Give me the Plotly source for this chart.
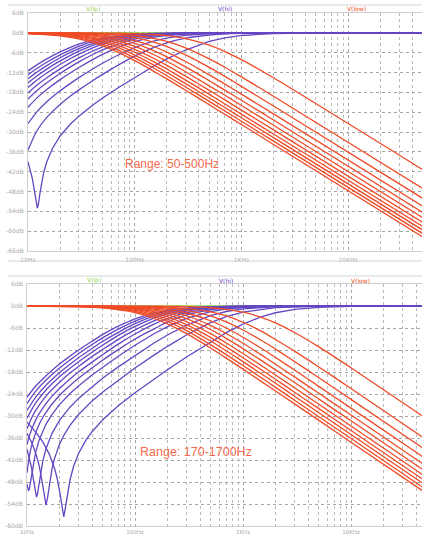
import plotly.graph_objects as go

# ---------------- data ----------------
# Top panel, V(low): shared frequency grid
TOP_LOW_FREQ = [10, 20, 30, 50, 70, 100, 150, 200, 300, 500, 700, 1000, 2000, 50000]
TOP_LOW_DB = [
    [-0.25, -0.93, -1.86, -3.96, -5.92, -8.42, -11.58, -13.94, -17.36, -21.75, -24.65, -27.75, -33.76, -61.72],
    [-0.2, -0.75, -1.54, -3.39, -5.21, -7.58, -10.65, -12.99, -16.38, -20.75, -23.66, -26.75, -32.76, -60.72],
    [-0.16, -0.6, -1.25, -2.83, -4.49, -6.72, -9.69, -11.99, -15.35, -19.7, -22.6, -25.7, -31.7, -59.66],
    [-0.12, -0.47, -0.99, -2.36, -3.82, -5.88, -8.73, -10.96, -14.29, -18.6, -21.51, -24.6, -30.6, -58.56],
    [-0.1, -0.37, -0.77, -1.88, -3.14, -5.0, -7.68, -9.84, -13.11, -17.4, -20.29, -23.37, -29.37, -57.33],
    [-0.07, -0.27, -0.57, -1.44, -2.47, -4.09, -6.55, -8.61, -11.78, -16.03, -18.9, -21.97, -27.96, -55.92],
    [-0.05, -0.19, -0.4, -1.04, -1.85, -3.2, -5.37, -7.27, -10.31, -14.49, -17.32, -20.39, -26.38, -54.33],
    [-0.03, -0.12, -0.27, -0.71, -1.3, -2.33, -4.13, -5.83, -8.67, -12.72, -15.52, -18.55, -24.53, -52.47],
    [-0.02, -0.07, -0.16, -0.42, -0.79, -1.48, -2.84, -4.18, -6.67, -10.47, -13.19, -16.19, -22.13, -50.06],
    [-0.01, -0.04, -0.08, -0.22, -0.41, -0.81, -1.65, -2.6, -4.54, -7.87, -10.42, -13.32, -19.18, -47.09],
    [0.0, -0.01, -0.02, -0.06, -0.12, -0.23, -0.5, -0.86, -1.74, -3.75, -5.67, -8.12, -13.6, -41.4],
]

# Top panel, V(hi): rising curves on a shared grid
TOP_HI_FREQ = [10, 12, 15, 20, 25, 30, 40, 50, 70, 100, 150, 200, 300, 500, 1000, 2000, 50000]
TOP_HI_DB = [
    [-11.5, -9.77, -7.88, -5.75, -4.37, -3.41, -2.2, -1.54, -0.85, -0.43, -0.2, -0.11, -0.05, -0.02, 0, 0, 0],
    [-12.71, -10.89, -8.9, -6.66, -5.15, -4.07, -2.69, -1.88, -1.07, -0.55, -0.26, -0.15, -0.07, -0.02, -0.01, 0, 0],
    [-13.9, -12.0, -9.92, -7.55, -5.93, -4.77, -3.25, -2.32, -1.33, -0.7, -0.33, -0.19, -0.08, -0.03, -0.01, 0, 0],
    [-15.14, -13.15, -10.98, -8.5, -6.8, -5.54, -3.85, -2.8, -1.65, -0.89, -0.41, -0.24, -0.11, -0.04, -0.01, 0, 0],
    [-16.52, -14.43, -12.17, -9.57, -7.78, -6.44, -4.61, -3.42, -2.06, -1.12, -0.53, -0.31, -0.14, -0.05, -0.01, 0, 0],
    [-18.2, -15.97, -13.6, -10.89, -9.01, -7.59, -5.57, -4.22, -2.63, -1.48, -0.72, -0.42, -0.2, -0.07, -0.02, 0, 0],
    [-20.0, -17.6, -15.13, -12.29, -10.3, -8.8, -6.64, -5.18, -3.34, -1.93, -0.97, -0.57, -0.26, -0.1, -0.02, 0, 0],
    [-22.5, -19.83, -17.14, -14.15, -12.07, -10.48, -8.16, -6.53, -4.41, -2.68, -1.4, -0.84, -0.4, -0.15, -0.04, -0.01, 0],
    [-27.5, -24.07, -20.87, -17.54, -15.29, -13.56, -11.02, -9.2, -6.7, -4.45, -2.52, -1.59, -0.78, -0.31, -0.08, -0.02, 0],
    [-35.5, -29.85, -25.59, -21.65, -19.13, -17.26, -14.55, -12.58, -9.77, -7.06, -4.48, -3.03, -1.61, -0.65, -0.17, -0.04, 0],
]
# Top panel, V(hi): the curve with the notch
TOP_NOTCH_FREQ = [10, 10.5, 11, 11.5, 12, 12.24, 12.5, 13, 14, 15, 17, 20, 25, 30, 40, 50, 70,
                  100, 150, 200, 300, 500, 700, 1000, 2000, 5000, 50000]
TOP_NOTCH_DB = [-39.0, -41.3, -44.2, -47.9, -52.1, -53.0, -52.0, -48.1, -42.4, -39.0, -34.9, -31.2, -27.6,
                -25.2, -22.0, -19.7, -16.6, -13.5, -10.1, -7.9, -5.2, -2.6, -1.5, -0.8, -0.2, -0.04, 0]

# Bottom panel, V(low)
BOT_LOW_FREQ = [10, 30, 50, 100, 150, 200, 300, 500, 700, 1000, 1500, 2000, 3000, 5000, 10000, 50000]
BOT_LOW_DB = [
    [-0.02, -0.2, -0.52, -1.81, -3.36, -4.87, -7.53, -11.44, -14.21, -17.22, -20.7, -23.18, -26.69, -31.12, -37.14, -51.12],
    [-0.02, -0.16, -0.42, -1.5, -2.83, -4.22, -6.72, -10.52, -13.25, -16.24, -19.7, -22.19, -25.69, -30.12, -36.14, -50.12],
    [-0.01, -0.12, -0.33, -1.19, -2.36, -3.57, -5.88, -9.53, -12.21, -15.18, -18.62, -21.09, -24.6, -29.03, -35.04, -49.02],
    [-0.01, -0.1, -0.27, -0.95, -1.93, -2.99, -5.09, -8.57, -11.18, -14.11, -17.54, -20.0, -23.5, -27.93, -33.94, -47.92],
    [-0.01, -0.07, -0.2, -0.75, -1.54, -2.43, -4.29, -7.55, -10.08, -12.96, -16.36, -18.8, -22.3, -26.72, -32.73, -46.71],
    [0.0, -0.05, -0.15, -0.55, -1.15, -1.88, -3.46, -6.41, -8.82, -11.62, -14.97, -17.41, -20.88, -25.3, -31.31, -45.29],
    [0.0, -0.04, -0.1, -0.39, -0.84, -1.39, -2.66, -5.26, -7.49, -10.17, -13.46, -15.88, -19.33, -23.74, -29.74, -43.72],
    [0.0, -0.02, -0.07, -0.26, -0.55, -0.95, -1.91, -4.02, -6.0, -8.51, -11.67, -14.05, -17.47, -21.86, -27.86, -41.83],
    [0.0, -0.01, -0.04, -0.15, -0.34, -0.57, -1.19, -2.72, -4.34, -6.54, -9.48, -11.75, -15.13, -19.48, -25.46, -39.43],
    [0.0, 0.0, -0.02, -0.08, -0.17, -0.3, -0.65, -1.62, -2.71, -4.43, -6.98, -9.14, -12.3, -16.56, -22.51, -36.47],
    [0.0, 0.0, 0.0, -0.02, -0.05, -0.08, -0.19, -0.48, -0.91, -1.69, -3.16, -4.62, -7.22, -11.09, -16.85, -30.74],
]

# Bottom panel, V(hi): each curve with its own frequency list
BOT_HI_FREQ = [
    [10, 12, 15, 20, 25, 30, 40, 50, 70, 100, 150, 200, 300, 500, 700, 1000, 2000, 50000],
    [10, 12, 15, 20, 25, 30, 40, 50, 70, 100, 150, 200, 300, 500, 700, 1000, 2000, 50000],
    [10, 12, 15, 20, 25, 30, 40, 50, 70, 100, 150, 200, 300, 500, 700, 1000, 2000, 50000],
    [10, 12, 15, 20, 25, 30, 40, 50, 70, 100, 150, 200, 300, 500, 700, 1000, 2000, 50000],
    [10, 11, 12, 15, 20, 25, 30, 40, 50, 70, 100, 150, 200, 300, 500, 700, 1000, 2000, 50000],
    [10, 10.5, 11, 12, 13, 15, 17, 20, 25, 30, 40, 50, 70, 100, 150, 200, 300, 500, 700, 1000, 2000, 50000],
    [10, 10.5, 11, 11.5, 12, 13, 14, 15, 17, 20, 25, 30, 40, 50, 70, 100, 150, 200, 300, 500, 700, 1000,
     2000, 5000, 50000],
    [10, 10.2, 10.34, 10.5, 10.8, 11, 11.5, 12, 13, 14, 15, 17, 20, 25, 30, 40, 50, 70, 100, 150, 200, 300,
     500, 700, 1000, 2000, 5000, 50000],
    [10, 10.5, 11, 11.5, 12, 12.24, 12.5, 13, 14, 15, 17, 20, 25, 30, 40, 50, 70, 100, 150, 200, 300, 500,
     700, 1000, 2000, 5000, 50000],
    [10, 11, 12, 13, 14, 14.5, 15, 15.5, 16, 17, 18, 20, 22, 25, 30, 40, 50, 70, 100, 150, 200, 300, 500,
     700, 1000, 2000, 5000, 10000, 50000],
    [10, 12, 14, 16, 18, 19, 20, 21, 21.9, 23, 24, 25, 27, 30, 35, 40, 50, 70, 100, 150, 200, 300, 500, 700,
     1000, 1500, 2000, 3000, 5000, 10000, 50000],
]
BOT_HI_DB = [
    [-24.9, -21.9, -19.0, -15.8, -13.7, -12.0, -9.6, -7.8, -5.5, -3.5, -1.9, -1.17, -0.56, -0.21, -0.11, -0.05, -0.01, 0],
    [-26.6, -23.3, -20.2, -16.9, -14.7, -13.0, -10.5, -8.7, -6.3, -4.11, -2.3, -1.43, -0.69, -0.26, -0.14, -0.07, -0.02, 0],
    [-28.5, -24.9, -21.6, -18.2, -15.9, -14.1, -11.6, -9.7, -7.2, -4.82, -2.79, -1.78, -0.88, -0.34, -0.17, -0.09, -0.02, 0],
    [-30.6, -26.5, -22.9, -19.3, -17.0, -15.2, -12.6, -10.7, -8.0, -5.57, -3.31, -2.15, -1.09, -0.42, -0.22, -0.11, -0.03, 0],
    [-33.5, -30.6, -28.55, -24.57, -20.8, -18.3, -16.5, -13.8, -11.9, -9.1, -6.5, -4.03, -2.69, -1.4, -0.56, -0.29,
     -0.15, -0.04, 0],
    [-37.8, -35.5, -33.8, -31.2, -29.3, -26.6, -24.65, -22.5, -19.9, -18.0, -15.3, -13.3, -10.4, -7.65, -4.94, -3.41,
     -1.84, -0.76, -0.4, -0.2, -0.05, 0],
    [-45.5, -41.1, -38.3, -36.3, -34.7, -32.2, -30.4, -29.0, -26.8, -24.4, -21.7, -19.7, -16.9, -14.8, -11.9, -9.0,
     -6.25, -4.33, -2.45, -1.05, -0.56, -0.29, -0.07, -0.01, 0],
    [-48.6, -50.05, -50.4, -49.97, -47.75, -46.07, -42.58, -40.0, -36.45, -34.03, -32.2, -29.61, -26.89, -23.88,
     -21.8, -18.8, -16.7, -13.7, -10.7, -7.57, -5.64, -3.36, -1.52, -0.84, -0.43, -0.11, -0.02, 0],
    [-39.0, -41.24, -44.03, -47.56, -51.36, -52.1, -51.28, -47.76, -42.28, -38.92, -34.8, -31.2, -27.6, -25.2, -22.0,
     -19.7, -16.6, -13.5, -10.1, -7.9, -5.2, -2.6, -1.5, -0.8, -0.2, -0.04, 0],
    [-34.71, -37.11, -39.97, -43.68, -49.0, -52.37, -54.3, -52.24, -49.16, -44.56, -41.55, -37.69, -35.2, -32.56,
     -29.6, -25.92, -23.5, -20.2, -16.9, -13.4, -11.0, -7.9, -4.55, -2.88, -1.65, -0.47, -0.08, -0.02, 0],
    [-31.66, -34.31, -37.08, -40.26, -44.32, -46.97, -50.35, -54.76, -57.5, -53.98, -50.22, -47.45, -43.72, -40.22,
     -36.67, -34.29, -31.11, -27.23, -23.67, -19.9, -17.4, -13.9, -9.77, -7.27, -4.93, -2.87, -1.84, -0.91, -0.35,
     -0.09, 0],
]

# V(lp): flat sum
LP_FREQ = [10, 50000]
LP_DB = [0, 0]

TRACE_NAMES = ["V(lp)", "V(hi)", "V(low)"]
TOP_NOTE = "Range: 50-500Hz"
BOT_NOTE = "Range: 170-1700Hz"
TOP_YTICKS = list(range(-66, 7, 6))
BOT_YTICKS = list(range(-60, 7, 6))
X_TICKVALS = [10, 100, 1000, 10000]
X_TICKTEXT = ["10Hz", "100Hz", "1KHz", "10KHz"]

# ---------------- styling ----------------
W, H = 422, 535
PURPLE = "#6546c2"
ORANGE = "#ef4b27"
GREEN = "#8fd448"
NOTE_COLOR = "#f46a4e"
GRID = "#a6a6a6"
MINOR_GRID = "#bcbcbc"
FRAME = "#cfcfcf"
LABEL = "#a9a9a9"

fig = go.Figure()


def line(x, y, color, ax, shape="spline"):
    fig.add_trace(go.Scatter(
        x=x, y=y, mode="lines",
        line=dict(color=color, width=1.3, shape=shape, smoothing=0.6 if shape == "spline" else None),
        xaxis="x" if ax == 1 else "x2", yaxis="y" if ax == 1 else "y2",
        hoverinfo="skip", showlegend=False))


# top panel
line(LP_FREQ, LP_DB, GREEN, 1, "linear")
for ys in TOP_HI_DB:
    line(TOP_HI_FREQ, ys, PURPLE, 1)
line(TOP_NOTCH_FREQ, TOP_NOTCH_DB, PURPLE, 1, "linear")
for ys in TOP_LOW_DB:
    line(TOP_LOW_FREQ, ys, ORANGE, 1)

# bottom panel
line(LP_FREQ, LP_DB, GREEN, 2, "linear")
for i, (xs, ys) in enumerate(zip(BOT_HI_FREQ, BOT_HI_DB)):
    line(xs, ys, PURPLE, 2, "spline" if i < 7 else "linear")
for ys in BOT_LOW_DB:
    line(BOT_LOW_FREQ, ys, ORANGE, 2)


def py(p):
    return 1 - p / H


minor_vals = [m * 10 ** e for e in range(1, 5) for m in range(2, 10)]


def xaxis(x0_px, top_log, anchor, standoff, fsize):
    return dict(
        type="log", range=[1, top_log], domain=[x0_px / W, 1], anchor=anchor,
        tickvals=X_TICKVALS, ticktext=X_TICKTEXT, ticks="",
        tickfont=dict(family="DejaVu Sans", size=fsize, color=LABEL),
        showgrid=True, gridcolor=GRID, griddash="dot", gridwidth=1,
        minor=dict(tickvals=minor_vals, showgrid=True, gridcolor=MINOR_GRID, griddash="dot", gridwidth=1),
        showline=True, linecolor=FRAME, linewidth=1, mirror=True, zeroline=False,
        ticklabelstandoff=standoff, fixedrange=True, automargin=False)


def yaxis(lo, hi, top_px, bot_px, ticks, anchor):
    return dict(
        range=[lo, hi], domain=[py(bot_px), py(top_px)], anchor=anchor,
        tickvals=ticks, ticktext=[f"{v}dB" for v in ticks], ticks="",
        tickfont=dict(family="DejaVu Sans", size=6, color=LABEL),
        showgrid=True, gridcolor=GRID, griddash="dot", gridwidth=1,
        showline=True, linecolor=FRAME, linewidth=1, mirror=True, zeroline=False,
        ticklabelstandoff=2, fixedrange=True, automargin=False)


fig.update_layout(
    width=W, height=H, margin=dict(l=0, r=0, t=0, b=0, pad=0), autosize=False,
    paper_bgcolor="white", plot_bgcolor="white", showlegend=False,
    xaxis=xaxis(28, 1 + (422 - 28) / 106.7, "y", 3, 6),
    yaxis=yaxis(-66, 6, 13, 251, TOP_YTICKS, "x"),
    xaxis2=xaxis(27, 1 + (422 - 27) / 108.0, "y2", 0, 5.5),
    yaxis2=yaxis(-60, 6, 284, 526, BOT_YTICKS, "x2"),
)

# window frame lines
for yp in (5, 261, 276):
    fig.add_shape(type="line", xref="paper", yref="paper", x0=8 / W, x1=1, y0=py(yp), y1=py(yp),
                  line=dict(color="#d4d4d4", width=1))

# trace name labels
label_colors = [GREEN, PURPLE, ORANGE]
for (yp, xs) in ((9, (93, 225, 356)), (280, (94, 226, 360))):
    for name, xc, col in zip(TRACE_NAMES, xs, label_colors):
        fig.add_annotation(x=xc / W, y=py(yp), xref="paper", yref="paper", text=name, showarrow=False,
                           font=dict(family="DejaVu Sans", size=6, color=col), xanchor="center", yanchor="middle")

# range notes
fig.add_annotation(x=123 / W, y=py(164), xref="paper", yref="paper", text=TOP_NOTE, showarrow=False,
                   font=dict(family="Liberation Sans", size=12, color=NOTE_COLOR), xanchor="left", yanchor="middle")
fig.add_annotation(x=138 / W, y=py(452), xref="paper", yref="paper", text=BOT_NOTE, showarrow=False,
                   font=dict(family="Liberation Sans", size=12.5, color=NOTE_COLOR), xanchor="left", yanchor="middle")

fig.write_html("out.html", config={"displayModeBar": False, "staticPlot": True},
               post_script="document.body.style.margin='0px';document.body.style.overflow='hidden';")
